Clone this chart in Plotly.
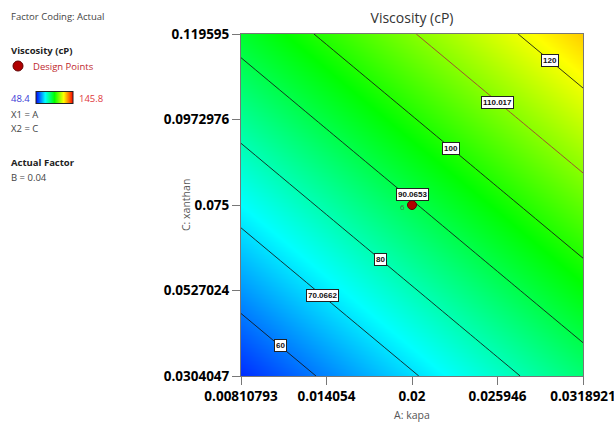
import numpy as np
import plotly.graph_objects as go

# ---------------- data ----------------
x_ticks = [0.00810793, 0.014054, 0.02, 0.025946, 0.0318921]
x_ticktext = ["0.00810793", "0.014054", "0.02", "0.025946", "0.0318921"]
y_ticks = [0.0304047, 0.0527024, 0.075, 0.0972976, 0.119595]
y_ticktext = ["0.0304047", "0.0527024", "0.075", "0.0972976", "0.119595"]

# predicted viscosity (cP), rows = C (xanthan) low->high, cols = A (kapa) low->high
z_visc = [
    [52.65, 61.03, 69.40, 77.78, 86.15],
    [62.70, 71.08, 79.45, 87.83, 96.20],
    [72.75, 81.13, 89.50, 97.88, 106.25],
    [82.80, 91.18, 99.55, 107.93, 116.30],
    [92.85, 101.23, 109.60, 117.98, 126.35],
]
contour_levels = [60, 70.0662, 80, 90.0653, 100, 110.017, 120]
contour_labels = ["60", "70.0662", "80", "90.0653", "100", "110.017", "120"]

design_x = [0.02]
design_y = [0.075]
design_count = ["6"]

z_min, z_max = 48.4, 145.8

# ---------------- styling / placement ----------------
label_frac = [0.52, 0.46, 0.50, 0.50, 0.51, 0.49, 0.49]   # where along each contour its label sits
label_yshift = [0, 0, 0, 6, 0, 0, 0]

W, H = 614, 423
L, R, T, B = 241, 31, 34, 47
PW, PH = W - L - R, H - T - B


def px(xp):
    return (xp - L) / PW


def py(yp):
    return (H - B - yp) / PH


colorscale = [
    [0.0, "rgb(0,0,255)"],
    [0.25, "rgb(0,255,255)"],
    [0.5, "rgb(0,255,0)"],
    [0.75, "rgb(255,255,0)"],
    [1.0, "rgb(255,0,0)"],
]

fig = go.Figure()

fig.add_trace(go.Contour(
    x=x_ticks, y=y_ticks, z=z_visc,
    colorscale=colorscale, zmin=z_min, zmax=z_max, zauto=False,
    autocontour=False,
    contours=dict(coloring="heatmap", showlines=False, start=60, end=120, size=10),
    line=dict(width=0),
    hoverinfo="skip",
    colorbar=dict(
        orientation="h", x=px(36), xanchor="left", y=py(98), yanchor="middle",
        lenmode="pixels", len=37, thicknessmode="pixels", thickness=12,
        outlinewidth=1, outlinecolor="#222", showticklabels=False, ticks="",
        xpad=0, ypad=0, borderwidth=0,
    ),
))

for lev in contour_levels:
    col = "#a0522d" if abs(lev - 110.017) < 1e-6 else "rgba(20,20,20,0.85)"
    fig.add_trace(go.Contour(
        x=x_ticks, y=y_ticks, z=z_visc,
        autocontour=False,
        contours=dict(coloring="none", start=lev, end=lev, size=1000),
        line=dict(color=col, width=1),
        showscale=False, hoverinfo="skip",
    ))

# design point
fig.add_trace(go.Scatter(
    x=design_x, y=design_y, mode="markers",
    marker=dict(size=9, color="#b00000", line=dict(color="#600000", width=1)),
    showlegend=False, hoverinfo="skip",
))

# contour labels: placed along each contour between its two crossings of the map border
z_arr = np.array(z_visc)
xs = np.array(x_ticks)
ys = np.array(y_ticks)
edges = [
    (z_arr[0, :], xs, np.full_like(xs, ys[0])),
    (z_arr[-1, :], xs, np.full_like(xs, ys[-1])),
    (z_arr[:, 0], np.full_like(ys, xs[0]), ys),
    (z_arr[:, -1], np.full_like(ys, xs[-1]), ys),
]


def crossings(lev):
    pts = []
    for zv, ex, ey in edges:
        for i in range(len(zv) - 1):
            a, b = zv[i], zv[i + 1]
            if (a - lev) * (b - lev) <= 0 and a != b:
                f = (lev - a) / (b - a)
                pts.append((ex[i] + f * (ex[i + 1] - ex[i]), ey[i] + f * (ey[i + 1] - ey[i])))
    pts.sort()
    return pts[0], pts[-1]


annotations = []
for lev, lab, fr, ysh in zip(contour_levels, contour_labels, label_frac, label_yshift):
    p0, p1 = crossings(lev)
    xa = p0[0] + fr * (p1[0] - p0[0])
    ya = p0[1] + fr * (p1[1] - p0[1])
    annotations.append(dict(
        x=xa, y=ya, xref="x", yref="y", text="<b>%s</b>" % lab, showarrow=False, yshift=ysh,
        font=dict(size=8, color="#111", family="Liberation Sans"),
        bgcolor="white", bordercolor="#222", borderwidth=1, borderpad=1,
    ))

# replicate count next to the design point
for dx_, dy_, cnt in zip(design_x, design_y, design_count):
    annotations.append(dict(
        x=dx_, y=dy_, xref="x", yref="y", text=cnt, showarrow=False,
        xanchor="right", yanchor="middle", xshift=-5, yshift=-1,
        font=dict(size=8, color="#4a6a4a", family="Open Sans"),
    ))

# left info panel
panel_font = "Open Sans"
panel = [
    ("Factor Coding: Actual", 9, 17, "#444", False),
    ("Viscosity (cP)", 9, 51, "#222", True),
    ("Design Points", 31, 66, "#c0282d", False),
    ("48.4", 9, 98, "#3b3bd6", False),
    ("145.8", 77, 98, "#e0383c", False),
    ("X1 = A", 9, 114, "#444", False),
    ("X2 = C", 9, 128, "#444", False),
    ("Actual Factor", 9, 162, "#222", True),
    ("B = 0.04", 9, 177, "#444", False),
]
for txt, xp, yp, col, bold in panel:
    annotations.append(dict(
        x=px(xp), y=py(yp), xref="paper", yref="paper", xanchor="left", yanchor="middle",
        text=("<b>%s</b>" % txt) if bold else txt, showarrow=False,
        font=dict(size=9.5, color=col, family=panel_font),
    ))

# axis titles
annotations.append(dict(
    x=0.5, y=py(415), xref="paper", yref="paper", xanchor="center", yanchor="middle",
    text="A: kapa", showarrow=False, font=dict(size=10.5, color="#555", family=panel_font),
))
annotations.append(dict(
    x=px(186), y=0.5, xref="paper", yref="paper", xanchor="center", yanchor="middle",
    text="C: xanthan", textangle=-90, showarrow=False,
    font=dict(size=10.5, color="#555", family=panel_font),
))

shapes = [dict(
    type="circle", xref="paper", yref="paper", xsizemode="pixel", ysizemode="pixel",
    xanchor=px(18), yanchor=py(66), x0=-5, x1=5, y0=-5, y1=5,
    fillcolor="#b00000", line=dict(color="#600000", width=1),
)]

tickfont = dict(size=13.5, color="#000", family="Open Sans", weight="bold")
fig.update_layout(
    width=W, height=H,
    margin=dict(l=L, r=R, t=T, b=B, pad=0, autoexpand=False),
    paper_bgcolor="white", plot_bgcolor="white",
    title=dict(text="Viscosity (cP)", x=px(412), xref="paper", xanchor="center",
               y=1 - 18 / H, yref="container", yanchor="middle",
               font=dict(size=14, color="#333", family=panel_font), automargin=False),
    xaxis=dict(range=[x_ticks[0], x_ticks[-1]], tickvals=x_ticks, ticktext=x_ticktext,
               ticks="outside", ticklen=8, tickcolor="#777", tickfont=tickfont,
               ticklabeloverflow="allow", automargin=False,
               showline=True, linecolor="#777", linewidth=1, mirror=True,
               showgrid=False, zeroline=False),
    yaxis=dict(range=[y_ticks[0], y_ticks[-1]], tickvals=y_ticks, ticktext=y_ticktext,
               ticks="outside", ticklen=8, tickcolor="#777", tickfont=tickfont,
               ticklabeloverflow="allow", automargin=False,
               showline=True, linecolor="#777", linewidth=1, mirror=True,
               showgrid=False, zeroline=False),
    annotations=annotations,
    shapes=shapes,
    showlegend=False,
)

fig.write_html("out.html")
